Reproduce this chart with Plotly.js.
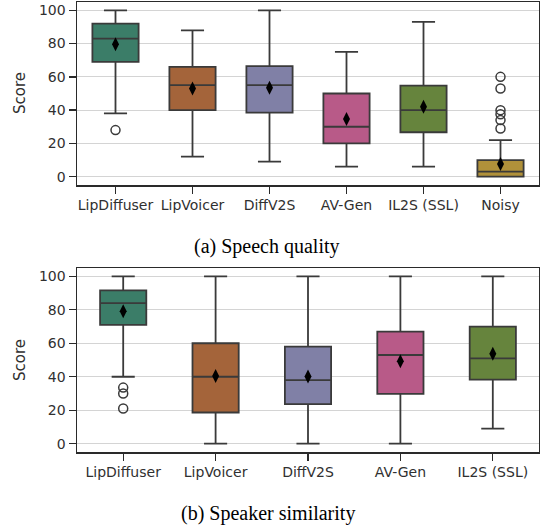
<!DOCTYPE html>
<html>
<head>
<meta charset="utf-8">
<script src="https://cdn.plot.ly/plotly-3.0.1.min.js"></script>
<style>html,body{margin:0;padding:0;background:#fff}#chart{width:540px;height:527px}</style>
</head>
<body>
<div id="chart"></div>
<script>
// ---- Data: (a) Speech quality ----
const catsA = ["LipDiffuser", "LipVoicer", "DiffV2S", "AV-Gen", "IL2S (SSL)", "Noisy"];
const lowA  = [38, 12, 9, 6, 6, 0];
const q1A   = [69, 40, 38.5, 20, 26.7, 0];
const medA  = [83, 55, 55, 30, 40, 3];
const q3A   = [92, 66, 66.5, 50, 54.7, 10];
const highA = [100, 88, 100, 75, 93, 22];
const meanA = [79.6, 53, 53.5, 34.7, 42, 7.6];
const outCatA = ["LipDiffuser", "Noisy", "Noisy", "Noisy", "Noisy", "Noisy", "Noisy"];
const outValA = [28, 60, 53, 40, 37.5, 34, 29];

// ---- Data: (b) Speaker similarity ----
const catsB = ["LipDiffuser", "LipVoicer", "DiffV2S", "AV-Gen", "IL2S (SSL)"];
const lowB  = [40, 0, 0, 0, 9];
const q1B   = [71, 18.6, 23.6, 29.7, 38.3];
const medB  = [84, 40, 38, 53, 51];
const q3B   = [91.6, 60, 58, 67, 70];
const highB = [100, 100, 100, 100, 100];
const meanB = [79.2, 40.5, 40.1, 49.3, 53.7];
const outCatB = ["LipDiffuser", "LipDiffuser", "LipDiffuser"];
const outValB = [33.5, 30, 21];

const colors = ["#3b7d68", "#a4643a", "#8080a6", "#b85a88", "#66843d", "#b0913a"];
const captionA = "(a) Speech quality";
const captionB = "(b) Speaker similarity";
const tickVals = [0, 20, 40, 60, 80, 100];

const edge = "#3a3a3a";
const traces = [];
function addBoxes(cats, low, q1, med, q3, high, mean, oc, ov, xa, ya, w) {
  cats.forEach((c, i) => {
    traces.push({
      type: "box", x: [c], q1: [q1[i]], median: [med[i]], q3: [q3[i]],
      lowerfence: [low[i]], upperfence: [high[i]],
      xaxis: xa, yaxis: ya, width: w, whiskerwidth: 0.5,
      fillcolor: colors[i], line: {color: edge, width: 1.8},
      boxpoints: false, showlegend: false, hoverinfo: "skip"
    });
  });
  traces.push({
    type: "scatter", mode: "markers", x: oc, y: ov, xaxis: xa, yaxis: ya,
    marker: {symbol: "circle-open", size: 9, color: edge, line: {width: 1.5, color: edge}},
    showlegend: false, hoverinfo: "skip"
  });
  traces.push({
    type: "scatter", mode: "markers", x: cats, y: mean, xaxis: xa, yaxis: ya,
    marker: {symbol: "diamond-tall", size: 10, color: "#000"},
    showlegend: false, hoverinfo: "skip"
  });
}
addBoxes(catsA, lowA, q1A, medA, q3A, highA, meanA, outCatA, outValA, "x", "y", 0.6);
addBoxes(catsB, lowB, q1B, medB, q3B, highB, meanB, outCatB, outValB, "x2", "y2", 0.5);

const tickFont = {family: "DejaVu Sans", size: 14, color: "#303030"};
const frame = {showline: true, mirror: true, linecolor: "#2a2a2a", linewidth: 1.5,
  ticks: "outside", ticklen: 7, tickwidth: 1.3, tickcolor: "#2a2a2a", tickfont: tickFont};

const layout = {
  width: 540, height: 527,
  margin: {l: 0, r: 0, t: 0, b: 0},
  paper_bgcolor: "#fff", plot_bgcolor: "#fff",
  boxmode: "overlay",
  xaxis: Object.assign({}, frame, {domain: [77/540, 539/540], anchor: "y", type: "category",
    categoryorder: "array", categoryarray: catsA, range: [-0.5, 5.5], showgrid: false}),
  yaxis: Object.assign({}, frame, {domain: [1 - 185/527, 1 - 2/527], anchor: "x", range: [-5, 105],
    tickvals: tickVals, showgrid: true, gridcolor: "#d4d4d4", gridwidth: 1.2, zeroline: false}),
  xaxis2: Object.assign({}, frame, {domain: [77/540, 539/540], anchor: "y2", type: "category",
    categoryorder: "array", categoryarray: catsB, range: [-0.5, 4.5], showgrid: false}),
  yaxis2: Object.assign({}, frame, {domain: [1 - 452/527, 1 - 268/527], anchor: "x2", range: [-5, 105],
    tickvals: tickVals, showgrid: true, gridcolor: "#d4d4d4", gridwidth: 1.2, zeroline: false}),
  annotations: [
    {text: "Score", xref: "paper", yref: "paper", x: 20/540, y: 1 - 93/527, textangle: -90,
     showarrow: false, xanchor: "center", yanchor: "middle", font: {family: "DejaVu Sans", size: 15, color: "#303030"}},
    {text: "Score", xref: "paper", yref: "paper", x: 20/540, y: 1 - 360/527, textangle: -90,
     showarrow: false, xanchor: "center", yanchor: "middle", font: {family: "DejaVu Sans", size: 15, color: "#303030"}},
    {text: captionA, xref: "paper", yref: "paper", x: 267/540, y: 1 - 246/527, showarrow: false,
     xanchor: "center", yanchor: "middle", font: {family: "Liberation Serif", size: 20, color: "#000"}},
    {text: captionB, xref: "paper", yref: "paper", x: 268/540, y: 1 - 513/527, showarrow: false,
     xanchor: "center", yanchor: "middle", font: {family: "Liberation Serif", size: 20, color: "#000"}}
  ]
};

Plotly.newPlot("chart", traces, layout, {staticPlot: true, displayModeBar: false});
</script>
</body>
</html>
